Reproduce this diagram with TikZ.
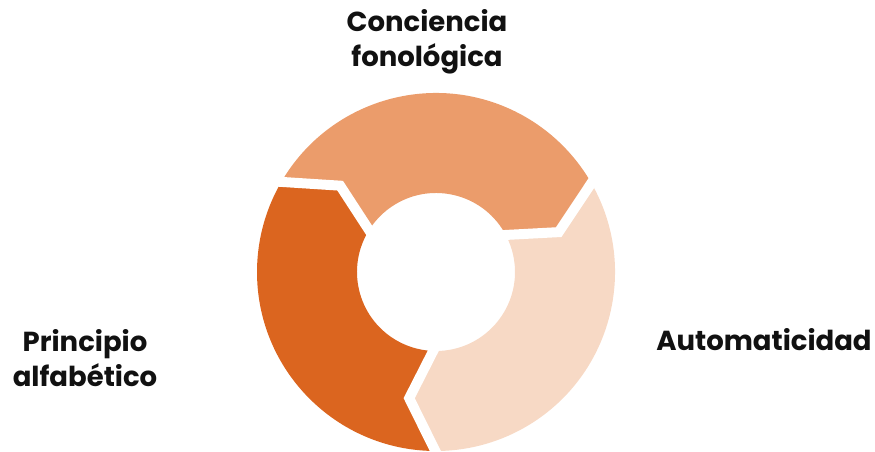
\documentclass[tikz,border=0pt]{standalone}
\usepackage{fontspec}
\setmainfont{Poppins}
\usetikzlibrary{calc,positioning}
\definecolor{color_segment_top}{HTML}{eb9c6b}
\definecolor{color_segment_right}{HTML}{f7d9c5}
\definecolor{color_segment_left}{HTML}{db651f}
\definecolor{color_label}{HTML}{111111}

\begin{document}
\begin{tikzpicture}[x=1pt,y=1pt,
		label_text/.style={color_label,font=\bfseries\fontsize{27.5}{35}\selectfont,align=center,inner sep=0pt},
		gap_line/.style={white,line width=10pt,line join=miter}]
				\useasboundingbox (0, 0) rectangle (875, 452);
				% Points
				\coordinate (C) at (436, 180);
				\def\rout{179}
				\def\rin{79}
				\def\rmid{129}

				\begin{scope}[shift={(C)}]
				% Segments
				\fill[color_segment_top]
					(151:\rout) arc[start angle=151, end angle=31, radius=\rout] --
					(18:\rmid) --
					(31:\rin) arc[start angle=31, end angle=151, radius=\rin] --
					(138:\rmid) --
					cycle;
				\fill[color_segment_right]
					(31:\rout) arc[start angle=31, end angle=-89, radius=\rout] --
					(-102:\rmid) --
					(-89:\rin) arc[start angle=-89, end angle=31, radius=\rin] --
					(18:\rmid) --
					cycle;
				\fill[color_segment_left]
					(271:\rout) arc[start angle=271, end angle=151, radius=\rout] --
					(138:\rmid) --
					(151:\rin) arc[start angle=151, end angle=271, radius=\rin] --
					(258:\rmid) --
					cycle;

				% Gaps
				\foreach \b in {31, 151, 271} {
					\draw[gap_line] (\b:\rout+8) -- (\b-13:\rmid) -- (\b:\rin-8);
				}
				\end{scope}

				% Labels
				\node[label_text] (conciencia) at (427, 410) {Conciencia\\fonológica};
				\node[label_text] (principio) at (85, 94) {Principio\\alfabético};
				\node[label_text] (automaticidad) at (764, 112) {Automaticidad};
			\end{tikzpicture}
\end{document}
